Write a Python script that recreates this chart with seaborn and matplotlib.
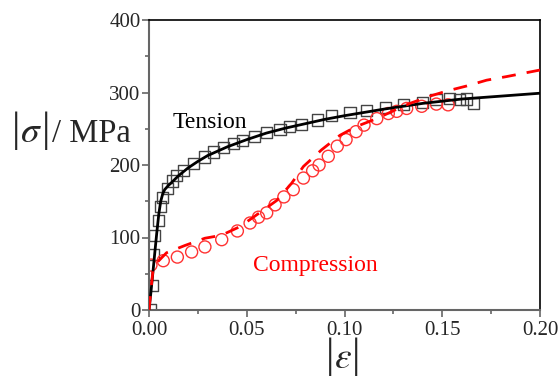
import numpy as np
import pandas as pd
import matplotlib
matplotlib.use('Agg')
import matplotlib.pyplot as plt
import seaborn as sns
from matplotlib.ticker import MultipleLocator

# Tension: measured points (squares)
ten_strain = [0.0009, 0.0019, 0.0022, 0.003, 0.0048, 0.006, 0.007, 0.0094, 0.012, 0.014,
              0.0176, 0.0227, 0.0286, 0.033, 0.038, 0.043, 0.048, 0.054, 0.060, 0.067,
              0.0718, 0.078, 0.086, 0.0934, 0.1028, 0.1114, 0.121, 0.130, 0.140, 0.1468,
              0.1536, 0.159, 0.1625, 0.1662]
ten_stress = [1, 34, 77, 103, 124, 143, 155, 168, 178, 186,
              193, 202, 211, 218, 224, 230, 234, 239, 245, 249,
              253, 256, 262, 268, 272, 275, 279, 283, 286, 290,
              292, 290, 291, 285]

# Tension: model curve (solid)
ten_fit_strain = [0, 0.001, 0.002, 0.003, 0.004, 0.005, 0.006, 0.007, 0.008, 0.010, 0.012,
                  0.015, 0.02, 0.025, 0.03, 0.04, 0.05, 0.06, 0.07, 0.08, 0.09, 0.10,
                  0.12, 0.14, 0.16, 0.18, 0.20]
ten_fit_stress = [0, 25, 52, 80, 107, 132, 150, 160, 166, 172, 177,
                  185, 196, 205, 213, 225, 235, 244, 251, 257, 263, 268,
                  277, 285, 291, 295, 299]

# Compression: measured points (circles)
com_strain = [0.001, 0.0073, 0.0145, 0.0218, 0.0286, 0.0372, 0.0452, 0.0517, 0.056, 0.0602,
              0.0645, 0.069, 0.0738, 0.079, 0.0837, 0.087, 0.0917, 0.0963, 0.1008, 0.1059,
              0.11, 0.1165, 0.1224, 0.1267, 0.1318, 0.1395, 0.147, 0.153]
com_stress = [62, 68, 73, 80, 87, 97, 109, 120, 128, 134,
              145, 156, 166, 182, 192, 200, 212, 226, 235, 246,
              255, 264, 271, 274, 278, 281, 284, 283]

# Compression: model curve (dashed)
com_fit_strain = [0, 0.001, 0.002, 0.003, 0.005, 0.009, 0.0184, 0.0286, 0.037, 0.0465,
                  0.056, 0.0653, 0.073, 0.079, 0.0883, 0.0977, 0.106, 0.1165, 0.126,
                  0.1335, 0.1437, 0.1523, 0.1625, 0.1727, 0.183, 0.20]
com_fit_stress = [0, 28, 54, 62, 68, 79, 89, 99, 103, 115,
                  133, 151, 175, 198, 221, 241, 253, 264, 276,
                  285, 295, 302, 309, 317, 322, 331]

sns.set_style('ticks')
plt.rcParams['font.family'] = ['Liberation Serif', 'DejaVu Serif']
plt.rcParams['mathtext.fontset'] = 'stix'

W, H = 558, 376
fig = plt.figure(figsize=(W / 100, H / 100), dpi=100)
ax = fig.add_axes([149 / W, 1 - 310 / H, 391 / W, 290 / H])


def ftext(x, y, s, **kw):
    # place text at pixel position (from top-left)
    fig.text(x / W, 1 - y / H, s, **kw)


sns.lineplot(x=ten_fit_strain, y=ten_fit_stress, ax=ax, color='black', lw=2.0, zorder=3)
sns.lineplot(x=com_fit_strain, y=com_fit_stress, ax=ax, color='#ff0000', lw=2.0,
             dashes=False, zorder=3, linestyle=(0, (5, 4)))
sns.scatterplot(x=ten_strain, y=ten_stress, ax=ax, marker='s', s=64,
                facecolor='none', edgecolor='#444444', linewidth=1.0, zorder=2)
sns.scatterplot(x=com_strain, y=com_stress, ax=ax, marker='o', s=75,
                facecolor='none', edgecolor='#ff3333', linewidth=1.0, zorder=2)

ax.set_xlim(0, 0.20)
ax.set_ylim(0, 400)
ax.xaxis.set_minor_locator(MultipleLocator(0.025))
ax.yaxis.set_major_locator(MultipleLocator(100))
ax.yaxis.set_minor_locator(MultipleLocator(50))
ax.set_xticks([0, 0.05, 0.10, 0.15, 0.20])
ax.set_xticklabels(['0.00', '0.05', '0.10', '0.15', '0.20'])

for side in ['left', 'bottom']:
    ax.spines[side].set_color('#666666')
    ax.spines[side].set_linewidth(1.5)
for side in ['top', 'right']:
    ax.spines[side].set_color('black')
    ax.spines[side].set_linewidth(1.2)
ax.tick_params(which='major', direction='out', length=5, width=1.2, color='#666666',
               labelsize=15, pad=1)
ax.tick_params(axis='x', which='major', pad=3)
ax.tick_params(which='minor', direction='out', length=3, width=1.2, color='#666666')

# y label: |sigma| / MPa, bars drawn tall like the original
ftext(16, 131, '|', fontsize=30, ha='center', va='center')
ftext(31, 142, r'$\sigma$', fontsize=27, ha='center', va='baseline')
ftext(46, 131, '|', fontsize=30, ha='center', va='center')
ftext(52, 142, '/ MPa', fontsize=23.5, ha='left', va='baseline')

# x label: |epsilon|
ftext(330, 357, '|', fontsize=30, ha='center', va='center')
ftext(343, 368, r'$\varepsilon$', fontsize=27, ha='center', va='baseline')
ftext(356, 357, '|', fontsize=30, ha='center', va='center')

ax.text(0.0312, 258, 'Tension', fontsize=17, ha='center', va='center', color='black')
ax.text(0.0849, 61, 'Compression', fontsize=17, ha='center', va='center', color='#ff0000')

fig.savefig('out.png', dpi=100)
